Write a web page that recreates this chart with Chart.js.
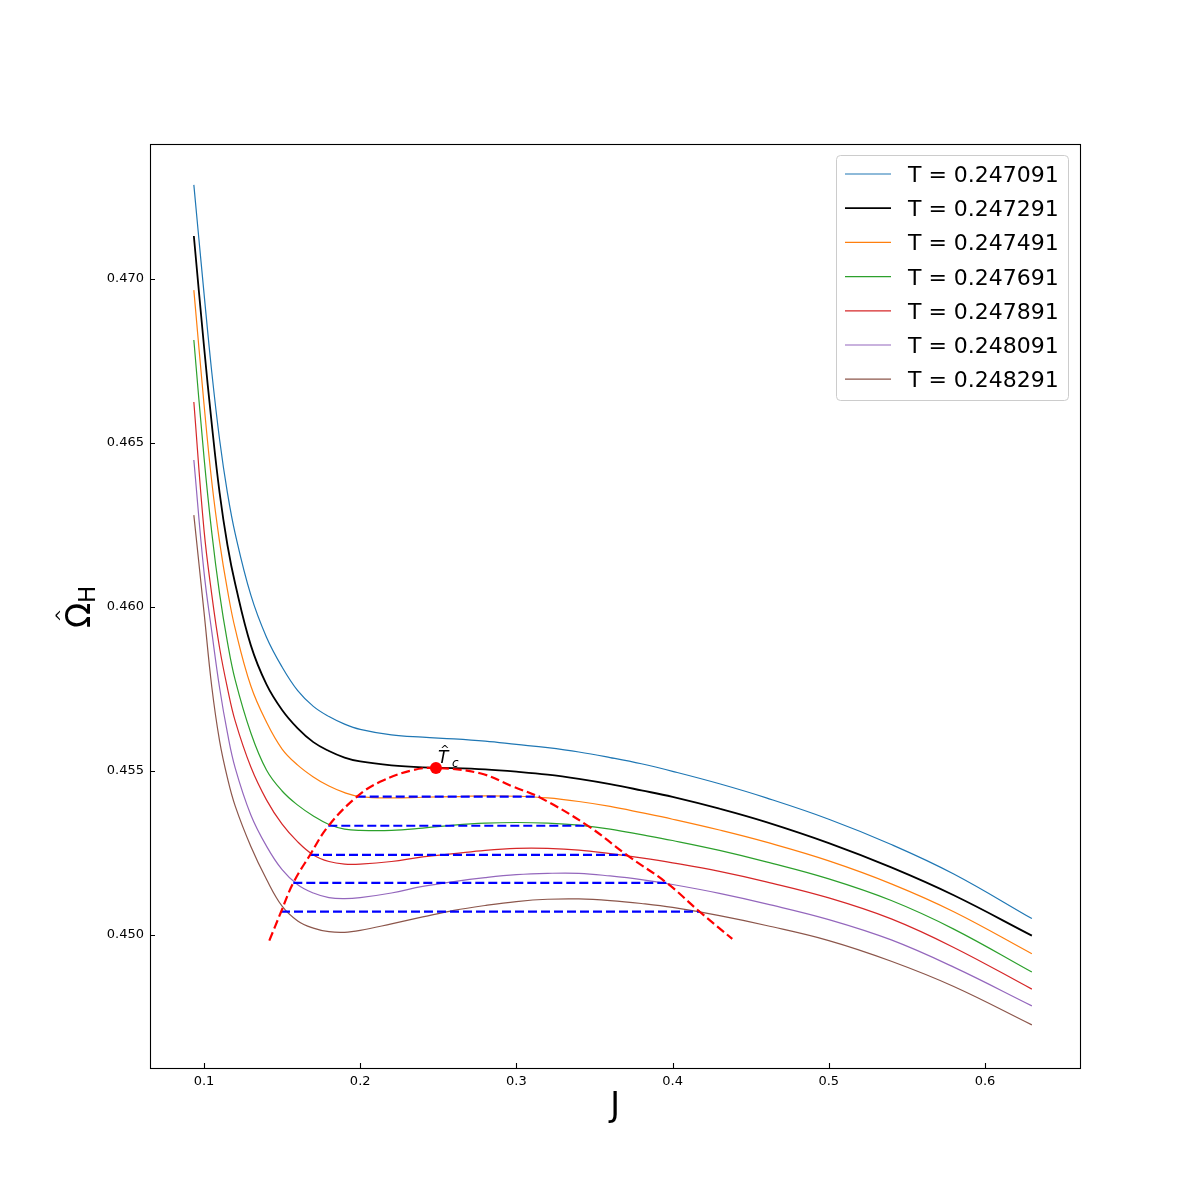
<!DOCTYPE html>
<html>
<head>
<meta charset="utf-8">
<script src="https://cdn.jsdelivr.net/npm/chart.js@4.4.0/dist/chart.umd.min.js"></script>
<style>
  body { margin: 0; background: #ffffff; }
  canvas { display: block; }
</style>
</head>
<body>
<canvas id="grafico" width="1200" height="1200"></canvas>
<script>
// valores
const J = [0.0935, 0.10, 0.105, 0.11, 0.115, 0.12, 0.13, 0.14, 0.15, 0.16, 0.17, 0.18, 0.19, 0.20, 0.22, 0.24, 0.26, 0.28, 0.30, 0.32, 0.34, 0.36, 0.38, 0.40, 0.43, 0.46, 0.50, 0.54, 0.58, 0.63];

const temps = ["0.247091", "0.247291", "0.247491", "0.247691", "0.247891", "0.248091", "0.248291"];
const cores = ["#1f77b4", "#000000", "#ff7f0e", "#2ca02c", "#d62728", "#9467bd", "#8c564b"];
const larguras = [1.2, 1.8, 1.2, 1.2, 1.2, 1.2, 1.2];

const omega1 = [0.47287, 0.46957, 0.46715, 0.46510, 0.46348, 0.46223, 0.46036, 0.45908, 0.45817, 0.45745, 0.45697, 0.45666, 0.45643, 0.45627, 0.45610, 0.45603, 0.45598, 0.45591, 0.45581, 0.45571, 0.45558, 0.45541, 0.45522, 0.45499, 0.45461, 0.45418, 0.45353, 0.45276, 0.45186, 0.45050];
const omega2 = [0.47131, 0.46795, 0.46557, 0.46348, 0.46189, 0.46070, 0.45883, 0.45764, 0.45686, 0.45630, 0.45588, 0.45561, 0.45541, 0.45529, 0.45517, 0.45511, 0.45509, 0.45505, 0.45498, 0.45489, 0.45476, 0.45460, 0.45441, 0.45421, 0.45385, 0.45344, 0.45280, 0.45206, 0.45121, 0.44998];
const omega3 = [0.46966, 0.46619, 0.46381, 0.46198, 0.46052, 0.45933, 0.45759, 0.45649, 0.45567, 0.45518, 0.45482, 0.45454, 0.45434, 0.45422, 0.45418, 0.45420, 0.45422, 0.45424, 0.45423, 0.45418, 0.45407, 0.45392, 0.45373, 0.45353, 0.45320, 0.45283, 0.45226, 0.45156, 0.45071, 0.44943];
const omega4 = [0.46814, 0.46457, 0.46226, 0.46040, 0.45893, 0.45777, 0.45616, 0.45503, 0.45439, 0.45396, 0.45363, 0.45337, 0.45323, 0.45319, 0.45319, 0.45326, 0.45335, 0.45341, 0.45343, 0.45341, 0.45335, 0.45323, 0.45306, 0.45288, 0.45258, 0.45223, 0.45171, 0.45105, 0.45018, 0.44887];
const omega5 = [0.46625, 0.46235, 0.46037, 0.45875, 0.45753, 0.45652, 0.45512, 0.45412, 0.45338, 0.45284, 0.45244, 0.45224, 0.45216, 0.45216, 0.45224, 0.45238, 0.45248, 0.45258, 0.45264, 0.45264, 0.45259, 0.45248, 0.45235, 0.45220, 0.45194, 0.45162, 0.45113, 0.45049, 0.44962, 0.44835];
const omega6 = [0.46448, 0.46107, 0.45924, 0.45753, 0.45616, 0.45509, 0.45366, 0.45271, 0.45199, 0.45153, 0.45128, 0.45114, 0.45111, 0.45114, 0.45128, 0.45148, 0.45163, 0.45175, 0.45184, 0.45188, 0.45188, 0.45180, 0.45169, 0.45154, 0.45127, 0.45095, 0.45047, 0.44985, 0.44902, 0.44784];
const omega7 = [0.46280, 0.45985, 0.45756, 0.45591, 0.45479, 0.45393, 0.45270, 0.45170, 0.45088, 0.45043, 0.45021, 0.45010, 0.45008, 0.45014, 0.45034, 0.45055, 0.45075, 0.45090, 0.45102, 0.45109, 0.45110, 0.45105, 0.45096, 0.45084, 0.45059, 0.45029, 0.44983, 0.44920, 0.44843, 0.44726];
const omegas = [omega1, omega2, omega3, omega4, omega5, omega6, omega7];

// linhas de Maxwell (tracejado azul)
const maxwellNivel = [0.45422, 0.45333, 0.45244, 0.45159, 0.45071];
const maxwellInicio = [0.19776, 0.17958, 0.16786, 0.15717, 0.14930];
const maxwellFim = [0.31511, 0.34603, 0.37061, 0.39622, 0.41754];

// curva de coexistencia (tracejado vermelho)
const coexJ = [0.14181, 0.14930, 0.15717, 0.16786, 0.17958, 0.19776, 0.21268, 0.23400, 0.24853, 0.27670, 0.29802, 0.31511, 0.34603, 0.37061, 0.39622, 0.41754, 0.43822];
const coexOmega = [0.44983, 0.45070, 0.45159, 0.45244, 0.45332, 0.45421, 0.45467, 0.45503, 0.45509, 0.45493, 0.45452, 0.45419, 0.45332, 0.45244, 0.45159, 0.45070, 0.44988];

const tcJ = [0.2485];
const tcOmega = [0.45509];

const xTicks = [0.1, 0.2, 0.3, 0.4, 0.5, 0.6];
const yTicks = [0.450, 0.455, 0.460, 0.465, 0.470];

const fonte = "'DejaVu Sans'";

function pontos(xs, ys) {
  return xs.map((x, i) => ({ x: x, y: ys[i] }));
}

const datasets = [];

datasets.push({
  label: "Tc",
  data: pontos(tcJ, tcOmega),
  showLine: false,
  pointRadius: 6,
  pointBackgroundColor: "#ff0000",
  pointBorderWidth: 0,
  order: 0
});

datasets.push({
  label: "coex",
  data: pontos(coexJ, coexOmega),
  borderColor: "#ff0000",
  borderWidth: 2.2,
  borderDash: [9, 4],
  pointRadius: 0,
  tension: 0.4,
  order: 1
});

for (let k = 0; k < maxwellNivel.length; k++) {
  datasets.push({
    label: "maxwell" + k,
    data: pontos([maxwellInicio[k], maxwellFim[k]], [maxwellNivel[k], maxwellNivel[k]]),
    borderColor: "#0000ff",
    borderWidth: 2.2,
    borderDash: [9, 4],
    pointRadius: 0,
    order: 2
  });
}

for (let k = 0; k < omegas.length; k++) {
  datasets.push({
    label: "T = " + temps[k],
    data: pontos(J, omegas[k]),
    borderColor: cores[k],
    borderWidth: larguras[k],
    pointRadius: 0,
    tension: 0.4,
    order: 10 + k
  });
}

// moldura, ticks para dentro, titulos e legenda
const extras = {
  id: "extras",
  afterDraw(chart) {
    const ctx = chart.ctx;
    const area = chart.chartArea;
    const sx = chart.scales.x;
    const sy = chart.scales.y;
    ctx.save();

    ctx.strokeStyle = "#000000";
    ctx.lineWidth = 1.1;
    ctx.strokeRect(area.left + 0.5, area.top + 0.5, area.right - area.left, area.bottom - area.top);

    ctx.beginPath();
    xTicks.forEach(v => {
      const px = Math.round(sx.getPixelForValue(v)) + 0.5;
      ctx.moveTo(px, area.bottom);
      ctx.lineTo(px, area.bottom - 5);
    });
    yTicks.forEach(v => {
      const py = Math.round(sy.getPixelForValue(v)) + 0.5;
      ctx.moveTo(area.left, py);
      ctx.lineTo(area.left + 5, py);
    });
    ctx.stroke();

    ctx.fillStyle = "#000000";

    // titulo do eixo x
    ctx.font = "33px " + fonte;
    ctx.textAlign = "center";
    ctx.textBaseline = "alphabetic";
    ctx.fillText("J", (area.left + area.right) / 2, area.bottom + 48);

    // titulo do eixo y
    ctx.save();
    ctx.translate(90, (area.top + area.bottom) / 2 + 1);
    ctx.rotate(-Math.PI / 2);
    ctx.textAlign = "left";
    ctx.font = "33px " + fonte;
    ctx.fillText("\u03A9", -21, 0);
    ctx.font = "23px " + fonte;
    ctx.fillText("H", 4, 5);
    ctx.textAlign = "center";
    ctx.font = "16px " + fonte;
    ctx.fillText("^", -8.5, -23);
    ctx.restore();

    // rotulo do ponto critico
    const tx = sx.getPixelForValue(tcJ[0]);
    const ty = sy.getPixelForValue(tcOmega[0]);
    ctx.textAlign = "left";
    ctx.font = "italic 17px " + fonte;
    ctx.fillText("T", tx + 2, ty - 5);
    ctx.font = "italic 12px " + fonte;
    ctx.fillText("c", tx + 16, ty - 1);
    ctx.textAlign = "center";
    ctx.font = "11px " + fonte;
    ctx.fillText("^", tx + 9, ty - 15);

    // legenda
    const series = chart.data.datasets.filter(d => d.label.indexOf("T = ") === 0);
    const lw = 232, lh = 245;
    const lx = area.right - 11.5 - lw;
    const ly = area.top + 11.5;
    const r = 4;
    ctx.beginPath();
    ctx.moveTo(lx + r, ly);
    ctx.lineTo(lx + lw - r, ly);
    ctx.quadraticCurveTo(lx + lw, ly, lx + lw, ly + r);
    ctx.lineTo(lx + lw, ly + lh - r);
    ctx.quadraticCurveTo(lx + lw, ly + lh, lx + lw - r, ly + lh);
    ctx.lineTo(lx + r, ly + lh);
    ctx.quadraticCurveTo(lx, ly + lh, lx, ly + lh - r);
    ctx.lineTo(lx, ly + r);
    ctx.quadraticCurveTo(lx, ly, lx + r, ly);
    ctx.closePath();
    ctx.fillStyle = "rgba(255,255,255,0.8)";
    ctx.fill();
    ctx.strokeStyle = "#cccccc";
    ctx.lineWidth = 1;
    ctx.stroke();

    ctx.font = "22px " + fonte;
    ctx.textAlign = "left";
    series.forEach((d, i) => {
      const yy = ly + 18.5 + i * 34.2;
      ctx.beginPath();
      ctx.strokeStyle = d.borderColor;
      ctx.lineWidth = d.borderWidth;
      ctx.moveTo(lx + 8.5, yy);
      ctx.lineTo(lx + 54.5, yy);
      ctx.stroke();
      ctx.fillStyle = "#000000";
      ctx.fillText(d.label, lx + 71.5, yy + 8);
    });

    ctx.restore();
  }
};

const ctx = document.getElementById("grafico").getContext("2d");
new Chart(ctx, {
  type: "line",
  data: { datasets: datasets },
  options: {
    responsive: false,
    animation: false,
    devicePixelRatio: 1,
    layout: { padding: { top: 144, right: 120, left: 0, bottom: 0 } },
    plugins: {
      legend: { display: false },
      tooltip: { enabled: false }
    },
    scales: {
      x: {
        type: "linear",
        min: 0.06543,
        max: 0.66082,
        afterBuildTicks: s => { s.ticks = xTicks.map(v => ({ value: v })); },
        afterFit: s => { s.height = 132; },
        grid: { display: false, drawTicks: false },
        border: { display: false },
        ticks: {
          padding: 6,
          color: "#000000",
          font: { family: "DejaVu Sans", size: 13 },
          callback: v => v.toFixed(1)
        }
      },
      y: {
        type: "linear",
        min: 0.445945,
        max: 0.474116,
        afterBuildTicks: s => { s.ticks = yTicks.map(v => ({ value: v })); },
        afterFit: s => { s.width = 150; },
        grid: { display: false, drawTicks: false },
        border: { display: false },
        ticks: {
          padding: 6,
          color: "#000000",
          font: { family: "DejaVu Sans", size: 13 },
          callback: v => v.toFixed(3)
        }
      }
    }
  },
  plugins: [extras]
});
</script>
</body>
</html>
